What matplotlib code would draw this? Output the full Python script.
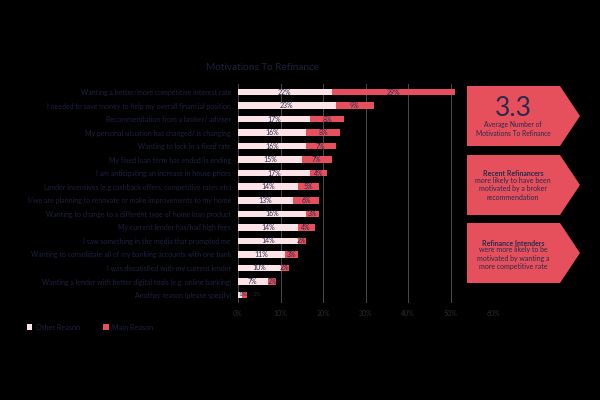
import matplotlib.pyplot as plt
from matplotlib.patches import Polygon
import numpy as np

plt.rcParams['font.family'] = ['Lato', 'DejaVu Sans']

motivations = [
    "Wanting a better/more competitive interest rate",
    "I needed to save money to help my overall financial position",
    "Recommendation from a broker/ adviser",
    "My personal situation has changed/ is changing",
    "Wanting to lock in a fixed rate",
    "My fixed loan term has ended/is ending",
    "I am anticipating an increase in house prices",
    "Lender incentives (e.g cashback offers, competitive rates etc)",
    "I/we are planning to renovate or make improvements to my home",
    "Wanting to change to a different type of home loan product",
    "My current lender has/had high fees",
    "I saw something in the media that prompted me",
    "Wanting to consolidate all of my banking accounts with one bank",
    "I was dissatisfied with my current lender",
    "Wanting a lender with better digital tools (e.g. online banking)",
    "Another reason (please specify)",
]
other_reason = [22, 23, 17, 16, 16, 15, 17, 14, 13, 16, 14, 14, 11, 10, 7, 1]
main_reason = [29, 9, 8, 8, 7, 7, 4, 5, 6, 3, 4, 2, 3, 2, 2, 1]
xticks = [0, 10, 20, 30, 40, 50, 60]

navy = '#272a4c'
dim = '#1e2140'
pink = '#fbe3e7'
red = '#e6505c'

fig = plt.figure(figsize=(6, 4), dpi=100, facecolor='black')
ax = fig.add_axes([238 / 600, 1 - 303 / 400, (493 - 238) / 600, (303 - 84) / 400])
ax.set_facecolor('black')

y = np.arange(len(motivations))
ax.barh(y, other_reason, height=0.48, color=pink, label='Other Reason', zorder=3)
ax.barh(y, main_reason, left=other_reason, height=0.48, color=red,
        label='Main Reason', zorder=3)

for i in range(len(y)):
    if main_reason[i] < 2 or other_reason[i] < 2:
        # tiny bar: labels beside it
        ax.text(0.2, y[i], "{}%".format(other_reason[i]), ha='left', va='center',
                fontsize=4.6, color=navy, zorder=4)
        ax.text(other_reason[i] + main_reason[i] + 1.5, y[i], "{}%".format(main_reason[i]),
                ha='left', va='center', fontsize=4.6, color='#22263a', zorder=4)
        continue
    ax.text(other_reason[i] / 2, y[i], "{}%".format(other_reason[i]),
            ha='center', va='center', fontsize=5, color=navy, zorder=4)
    ax.text(other_reason[i] + main_reason[i] / 2, y[i], "{}%".format(main_reason[i]),
            ha='center', va='center', fontsize=5, color=navy, zorder=4)

ax.set_xlim(0, 60)
ax.set_ylim(len(y) - 0.4, -0.6)
ax.set_xticks(xticks)
ax.set_xticklabels(["{}%".format(t) for t in xticks], fontsize=5, color='#2a2a32')
ax.set_yticks(y)
ax.set_yticklabels(motivations, fontsize=5, color=dim)
ax.tick_params(length=0, pad=5)
ax.grid(axis='x', color='#555555', linewidth=0.6, zorder=0)
for s in ax.spines.values():
    s.set_visible(False)

fig.text(262 / 600, 1 - 67 / 400, "Motivations To Refinance", ha='center', va='center',
         fontsize=7.2, color=dim)

leg = fig.legend(loc='lower left', bbox_to_anchor=(20 / 600, 1 - 337 / 400), ncol=2,
                 frameon=False, fontsize=5.2, handlelength=0.8, handleheight=0.8,
                 handletextpad=0.5, columnspacing=3.2, labelcolor=dim)

# callout boxes on the right
over = fig.add_axes([0, 0, 1, 1], facecolor='none')
over.set_xlim(0, 600)
over.set_ylim(400, 0)
over.axis('off')
boxes = [(86, 146), (155, 215), (223, 283)]
for top, bot in boxes:
    mid = (top + bot) / 2
    over.add_patch(Polygon([(467, top), (560, top), (580, mid), (560, bot), (467, bot)],
                           closed=True, facecolor=red, edgecolor='none'))

over.text(513, 108, "3.3", ha='center', va='center', fontsize=19, color=navy)
over.text(513, 129, "Average Number of\nMotivations To Refinance", ha='center',
          va='center', fontsize=4.8, color=navy, linespacing=1.3)
over.text(513, 174, "Recent Refinancers", ha='center', va='center', fontsize=5,
          color=navy, fontweight='bold')
over.text(513, 189, "more likely to have been\nmotivated by a broker\nrecommendation",
          ha='center', va='center', fontsize=5, color=navy, linespacing=1.25)
over.text(513, 243, "Refinance Intenders", ha='center', va='center', fontsize=5,
          color=navy, fontweight='bold')
over.text(513, 258, "were more likely to be\nmotivated by wanting a\nmore competitive rate",
          ha='center', va='center', fontsize=5, color=navy, linespacing=1.25)

fig.savefig('out.png', dpi=100, facecolor='black')
